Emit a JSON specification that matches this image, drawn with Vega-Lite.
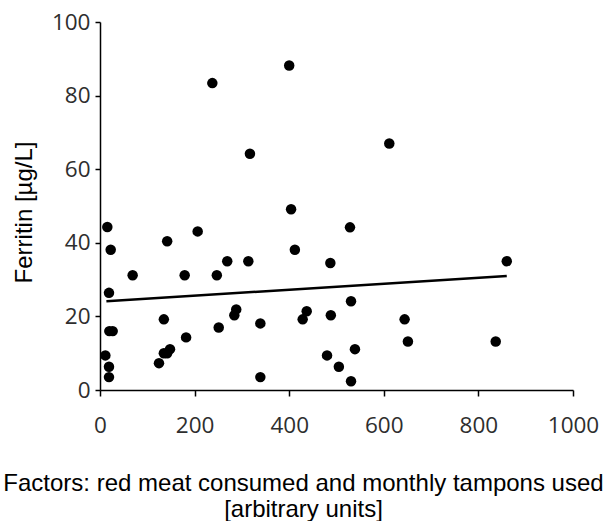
{
  "$schema": "https://vega.github.io/schema/vega-lite/v6.json",
  "width": 473,
  "height": 368,
  "autosize": {"type": "none"},
  "padding": {"left": 100, "top": 22, "right": 35, "bottom": 131},
  "background": "white",
  "config": {
    "view": {"stroke": null},
    "axis": {
      "grid": false,
      "domainColor": "black",
      "domainWidth": 1.5,
      "tickColor": "black",
      "tickWidth": 1.5,
      "labelFont": "Open Sans",
      "labelFontSize": 22.5,
      "labelColor": "#2e2e2e",
      "labelFlush": false,
      "titleFont": "Liberation Sans",
      "titleFontSize": 24,
      "titleFontWeight": "normal",
      "titleColor": "black"
    }
  },
  "datasets": {
    "points": [
      {"x": 15.5, "y": 44.3}, {"x": 22.6, "y": 38.1}, {"x": 69, "y": 31.2}, {"x": 142, "y": 40.4},
      {"x": 206.5, "y": 43.1}, {"x": 179, "y": 31.2}, {"x": 247, "y": 31.2}, {"x": 269, "y": 35},
      {"x": 313.6, "y": 35}, {"x": 404, "y": 49.1}, {"x": 412, "y": 38.1}, {"x": 487, "y": 34.5},
      {"x": 19, "y": 26.4}, {"x": 135, "y": 19.2}, {"x": 19.7, "y": 16}, {"x": 26.8, "y": 16},
      {"x": 11.3, "y": 9.4}, {"x": 19, "y": 6.3}, {"x": 19, "y": 3.5}, {"x": 124.7, "y": 7.3},
      {"x": 135, "y": 10}, {"x": 142, "y": 10}, {"x": 148, "y": 11.1}, {"x": 182, "y": 14.3},
      {"x": 251, "y": 17}, {"x": 284, "y": 20.3}, {"x": 288, "y": 21.9}, {"x": 339, "y": 18.1},
      {"x": 339, "y": 3.5}, {"x": 428.5, "y": 19.2}, {"x": 437, "y": 21.4}, {"x": 488, "y": 20.3},
      {"x": 480, "y": 9.4}, {"x": 505, "y": 6.3}, {"x": 237.5, "y": 83.4}, {"x": 400, "y": 88.2},
      {"x": 317, "y": 64.2}, {"x": 611.6, "y": 67}, {"x": 528.5, "y": 44.2}, {"x": 860, "y": 35},
      {"x": 530.7, "y": 24.1}, {"x": 644, "y": 19.2}, {"x": 651, "y": 13.2}, {"x": 836.6, "y": 13.2},
      {"x": 539, "y": 11.1}, {"x": 530.7, "y": 2.4}
    ],
    "fit": [
      {"x": 13.5, "y": 24.1},
      {"x": 860, "y": 31.0}
    ]
  },
  "layer": [
    {
      "data": {"name": "fit"},
      "mark": {"type": "line", "color": "black", "strokeWidth": 2.5},
      "encoding": {
        "x": {"field": "x", "type": "quantitative", "scale": {"domain": [0, 1000], "nice": false},
          "axis": {
            "values": [0, 200, 400, 600, 800, 1000],
            "format": "d",
            "tickSize": 6,
            "labelPadding": 18,
            "labelDx": 4,
            "title": ["Factors: red meat consumed and monthly tampons used", "[arbitrary units]"],
            "titleX": 203,
            "titleY": 100,
            "titleAlign": "center",
            "titleBaseline": "alphabetic",
            "titleLineHeight": 26.5
          }
        },
        "y": {"field": "y", "type": "quantitative", "scale": {"domain": [0, 100], "nice": false},
          "axis": {
            "values": [0, 20, 40, 60, 80, 100],
            "format": "d",
            "tickSize": 5,
            "labelPadding": 5,
            "title": "Ferritin [µg/L]",
            "titleAngle": -90,
            "titleX": -69,
            "titleY": 190,
            "titleAlign": "center",
            "titleBaseline": "alphabetic"
          }
        }
      }
    },
    {
      "data": {"name": "points"},
      "mark": {"type": "circle", "color": "black", "opacity": 1, "size": 110},
      "encoding": {
        "x": {"field": "x", "type": "quantitative"},
        "y": {"field": "y", "type": "quantitative"}
      }
    }
  ]
}
